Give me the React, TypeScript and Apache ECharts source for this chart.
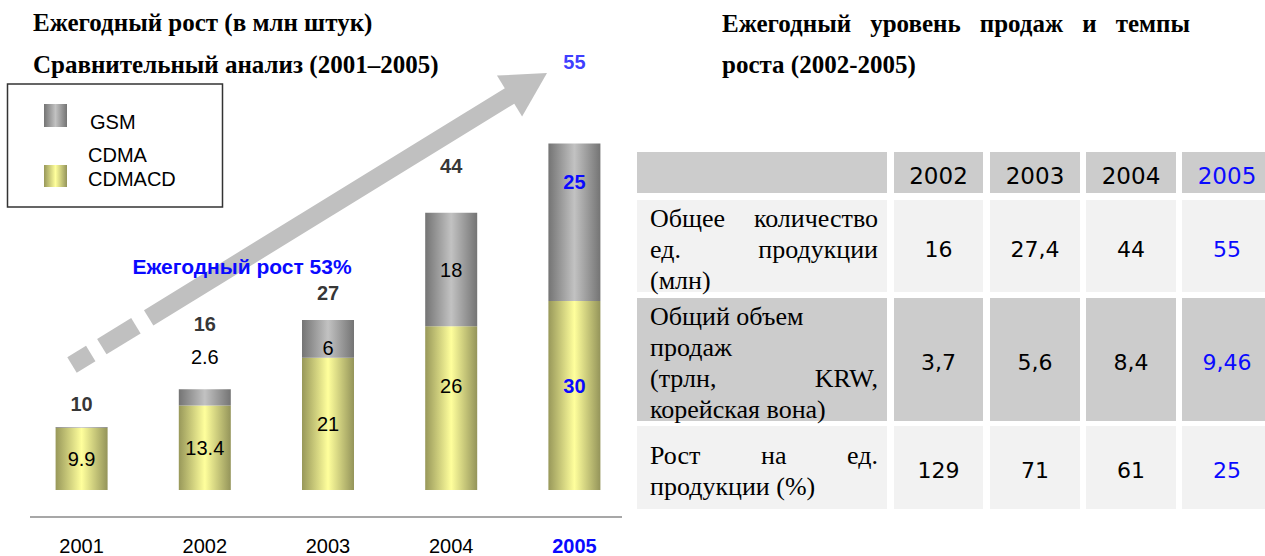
import React, { useEffect, useRef } from "react";
import * as echarts from "echarts";

// ---------- data ----------
const years = ["2001", "2002", "2003", "2004", "2005"];
const cdmaValues = [9.9, 13.4, 21, 26, 30];
const gsmValues = [0.1, 2.6, 6, 18, 25];
const totalValues = [10, 16, 27, 44, 55];

const tableYears = ["2002", "2003", "2004", "2005"];
const unitsTotalRow = ["16", "27,4", "44", "55"];
const salesTotalRow = ["3,7", "5,6", "8,4", "9,46"];
const unitGrowthRow = ["129", "71", "61", "25"];

// row label lines: arrays = justified line, strings = left-aligned line
const unitsTotalLabel: (string | string[])[] = [["Общее", "количество"], ["ед.", "продукции"], "(млн)"];
const salesTotalLabel: (string | string[])[] = ["Общий объем", "продаж", ["(трлн,", "KRW,"], "корейская вона)"];
const unitGrowthLabel: (string | string[])[] = [["Рост", "на", "ед."], "продукции (%)"];

const leftTitle1 = "Ежегодный рост (в млн штук)";
const leftTitle2 = "Сравнительный анализ (2001–2005)";
const rightTitle1 = ["Ежегодный", "уровень", "продаж", "и", "темпы"];
const rightTitle2 = "роста (2002-2005)";
const growthNote = "Ежегодный рост 53%";

// ---------- styles ----------
const BLUE = "#0a0aff";
const SANS = "Liberation Sans, Arial, sans-serif";
const SERIF = "Liberation Serif, Times New Roman, serif";
const TABLE_SANS = "DejaVu Sans, sans-serif";
const LABEL_SIZE = 20;
const TITLE_SIZE = 25;
const totalLabelLift = [23, 65, 27, 47, 82];
const gsmLabelOffsetY = [0, 0, 9, 0, -40];
const cdmaLabelOffsetY = [0, 0, 0, -22, -10];

const gsmGradient = () =>
  new echarts.graphic.LinearGradient(0, 0, 1, 0, [
    { offset: 0, color: "#747474" },
    { offset: 0.5, color: "#c2c2c2" },
    { offset: 1, color: "#747474" },
  ]);
const cdmaGradient = () =>
  new echarts.graphic.LinearGradient(0, 0, 1, 0, [
    { offset: 0, color: "#98985a" },
    { offset: 0.5, color: "#ffff9c" },
    { offset: 1, color: "#94945a" },
  ]);

let measureCtx: CanvasRenderingContext2D | null = null;
function measure(text: string, font: string): number {
  if (!measureCtx) measureCtx = document.createElement("canvas").getContext("2d");
  measureCtx!.font = font;
  return measureCtx!.measureText(text).width;
}

function textEl(text: string, x: number, y: number, size: number, family: string, opts: any = {}) {
  return {
    type: "text",
    x,
    y,
    z: opts.z ?? 20,
    style: {
      text,
      fontSize: size,
      fontFamily: family,
      fontWeight: opts.weight ?? "normal",
      fill: opts.fill ?? "#000",
      align: opts.align ?? "left",
      textAlign: opts.align ?? "left",
      verticalAlign: "middle",
      textVerticalAlign: "middle",
    },
  };
}

function justifiedLine(words: string[], x0: number, x1: number, y: number, size: number, family: string, weight = "normal") {
  const font = `${weight} ${size}px ${family}`;
  const widths = words.map((w) => measure(w, font));
  const total = widths.reduce((a, b) => a + b, 0);
  const gap = words.length > 1 ? (x1 - x0 - total) / (words.length - 1) : 0;
  const els: any[] = [];
  let x = x0;
  words.forEach((w, i) => {
    els.push(textEl(w, x, y, size, family, { weight }));
    x += widths[i] + gap;
  });
  return els;
}

function arrowElements() {
  const p0 = [72, 365];
  const tip = [547, 73];
  const dx = tip[0] - p0[0];
  const dy = tip[1] - p0[1];
  const len = Math.sqrt(dx * dx + dy * dy);
  const u = [dx / len, dy / len];
  const n = [-u[1], u[0]];
  const at = (s: number, h: number) => [p0[0] + u[0] * s + n[0] * h, p0[1] + u[1] * s + n[1] * h];
  const seg = (s0: number, s1: number, half: number) => [at(s0, half), at(s1, half), at(s1, -half), at(s0, -half)];
  const fill = "#c0c0c0";
  const pieces = [
    [0, 22],
    [35, 75],
    [90, len - 43],
  ];
  const els: any[] = pieces.map(([a, b]) => ({
    type: "polygon",
    z: 1,
    shape: { points: seg(a, b, 9) },
    style: { fill },
  }));
  els.push({
    type: "polygon",
    z: 1,
    shape: { points: [at(len - 44, 24), at(len, 0), at(len - 44, -24)] },
    style: { fill },
  });
  return els;
}

function tableElements() {
  const els: any[] = [];
  const colX = [637, 894, 990, 1086, 1182];
  const colW = [250, 89, 90, 90, 90];
  const rows = [
    { y: 152, h: 41, fill: "#cccccc" },
    { y: 200, h: 92, fill: "#f2f2f2" },
    { y: 298, h: 123, fill: "#cccccc" },
    { y: 426, h: 83, fill: "#f2f2f2" },
  ];
  rows.forEach((r) => {
    colX.forEach((x, ci) => {
      els.push({
        type: "rect",
        z: 2,
        shape: { x, y: r.y, width: colW[ci], height: r.h },
        style: { fill: r.fill },
      });
    });
  });
  // header years
  tableYears.forEach((yr, i) => {
    const cx = colX[i + 1] + colW[i + 1] / 2;
    els.push(textEl(yr, cx, rows[0].y + rows[0].h / 2 + 3, 23, TABLE_SANS, { align: "center", fill: i === 3 ? BLUE : "#000" }));
  });
  const bodyRows = [
    { label: unitsTotalLabel, vals: unitsTotalRow },
    { label: salesTotalLabel, vals: salesTotalRow },
    { label: unitGrowthLabel, vals: unitGrowthRow },
  ];
  bodyRows.forEach((br, ri) => {
    const r = rows[ri + 1];
    const cy = r.y + r.h / 2 + 3;
    const lh = 31;
    const n = br.label.length;
    br.label.forEach((line, li) => {
      const y = cy + (li - (n - 1) / 2) * lh;
      if (Array.isArray(line)) {
        els.push(...justifiedLine(line, 650, 878, y, 26, SERIF));
      } else {
        els.push(textEl(line, 650, y, 26, SERIF));
      }
    });
    br.vals.forEach((v, i) => {
      const cx = colX[i + 1] + colW[i + 1] / 2;
      els.push(textEl(v, cx, cy, 22, TABLE_SANS, { align: "center", fill: i === 3 ? BLUE : "#000" }));
    });
  });
  return els;
}

export default function App() {
  const ref = useRef<HTMLDivElement>(null);
  useEffect(() => {
    if (!ref.current) return;
    const chart = echarts.init(ref.current, null, { renderer: "svg" });

    const graphics: any[] = [
      // titles
      textEl(leftTitle1, 33, 22, TITLE_SIZE, SERIF, { weight: "bold" }),
      textEl(leftTitle2, 33, 64, TITLE_SIZE, SERIF, { weight: "bold" }),
      ...justifiedLine(rightTitle1, 722, 1190, 23, TITLE_SIZE, SERIF, "bold"),
      textEl(rightTitle2, 722, 64, TITLE_SIZE, SERIF, { weight: "bold" }),
      // legend
      {
        type: "rect",
        z: 5,
        shape: { x: 7.5, y: 84, width: 215, height: 123 },
        style: { fill: "none", stroke: "#333", lineWidth: 1.5 },
      },
      { type: "rect", z: 5, shape: { x: 44, y: 104, width: 23, height: 23 }, style: { fill: gsmGradient() } },
      { type: "rect", z: 5, shape: { x: 44, y: 165, width: 23, height: 22 }, style: { fill: cdmaGradient() } },
      textEl("GSM", 90, 122, LABEL_SIZE, SANS),
      textEl("CDMA", 88, 155, LABEL_SIZE, SANS),
      textEl("CDMACD", 88, 179, LABEL_SIZE, SANS),
      // arrow
      ...arrowElements(),
      textEl(growthNote, 242, 266, 21, SANS, { weight: "bold", fill: BLUE, align: "center" }),
      // baseline
      {
        type: "line",
        z: 5,
        shape: { x1: 30, y1: 517, x2: 622, y2: 517 },
        style: { stroke: "#8a8a8a", lineWidth: 1.5 },
      },
      ...tableElements(),
    ];

    chart.setOption({
      animation: false,
      grid: { left: 20, right: 629, top: 112, bottom: 66 },
      xAxis: {
        type: "category",
        data: years,
        axisLine: { show: false },
        axisTick: { show: false },
        axisLabel: {
          margin: 46,
          formatter: (v: string, i: number) => (i === 4 ? `{hl|${v}}` : `{n|${v}}`),
          rich: {
            n: { fontSize: LABEL_SIZE, fontFamily: SANS, color: "#000" },
            hl: { fontSize: LABEL_SIZE, fontFamily: SANS, color: BLUE, fontWeight: "bold" },
          },
        },
      },
      yAxis: { type: "value", min: 0, max: 60, show: false, splitLine: { show: false } },
      series: [
        {
          name: "CDMA CDMACD",
          type: "bar",
          stack: "total",
          barWidth: 52,
          itemStyle: { color: cdmaGradient() },
          data: cdmaValues.map((v, i) => ({
            value: v,
            label: {
              show: true,
              position: "inside",
              offset: [0, cdmaLabelOffsetY[i]],
              color: i === 4 ? BLUE : "#000",
              fontWeight: i === 4 ? "bold" : "normal",
              fontSize: LABEL_SIZE,
              fontFamily: SANS,
            },
          })),
        },
        {
          name: "GSM",
          type: "bar",
          stack: "total",
          barWidth: 52,
          itemStyle: { color: gsmGradient() },
          data: gsmValues.map((v, i) => ({
            value: v,
            label: {
              show: v >= 1,
              position: v < 5 ? "top" : "inside",
              distance: 22,
              offset: [0, gsmLabelOffsetY[i]],
              color: i === 4 ? BLUE : "#000",
              fontWeight: i === 4 ? "bold" : "normal",
              fontSize: LABEL_SIZE,
              fontFamily: SANS,
            },
          })),
        },
        {
          name: "Total",
          type: "scatter",
          symbolSize: 1,
          itemStyle: { color: "rgba(0,0,0,0)" },
          data: totalValues.map((v, i) => ({
            value: v,
            label: {
              show: true,
              position: "inside",
              offset: [0, -totalLabelLift[i]],
              formatter: String(v),
              color: i === 4 ? BLUE : "#000",
              fontWeight: "bold",
              fontSize: LABEL_SIZE,
              fontFamily: SANS,
            },
          })),
        },
      ],
      graphic: graphics,
    });

    return () => chart.dispose();
  }, []);

  return <div ref={ref} style={{ position: "fixed", left: 0, top: 0, width: 1265, height: 556, background: "#fff" }} />;
}
